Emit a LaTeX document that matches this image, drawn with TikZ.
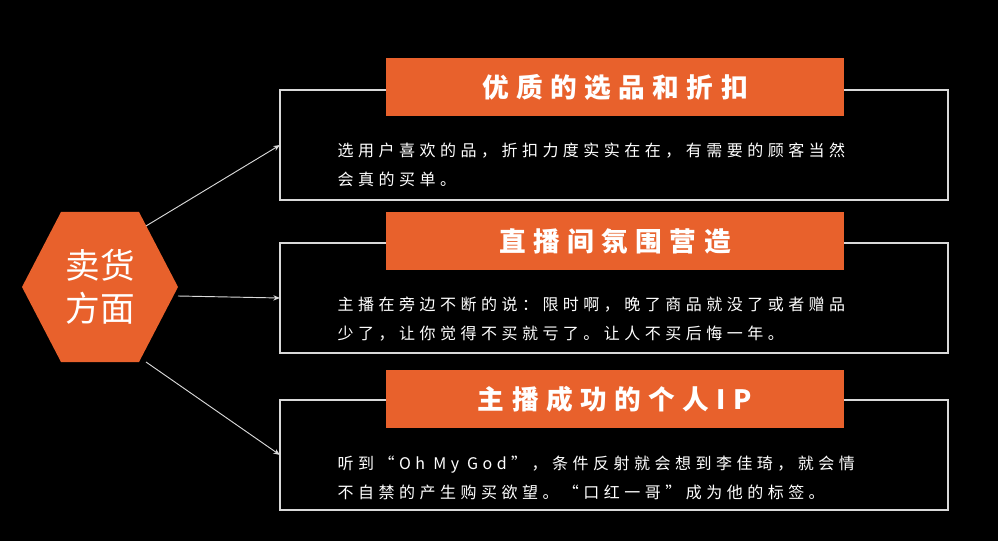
\documentclass[tikz,border=0pt]{standalone}
\usepackage{fontspec}
\setmainfont{Noto Sans CJK SC}
\newfontfamily\widecjk[LetterSpace=28]{Noto Sans CJK SC}
\usetikzlibrary{arrows.meta}
\definecolor{hotorange}{HTML}{E8612C}
\tikzset{
  card/.style={draw=white!85!black, line width=0.8pt},
  titlebar/.style={fill=hotorange, minimum width=344pt, minimum height=44pt, font=\widecjk\bfseries\fontsize{20}{24}\selectfont, text=white},
  bodytext/.style={text=white, align=left, anchor=west, font=\widecjk\fontsize{12}{22}\selectfont},
  link/.style={draw=white!85!black, line width=0.7pt, -{Stealth[width=4pt, length=5pt]}}
}
\begin{document}
\begin{tikzpicture}[x=0.75pt, y=-0.75pt]
\fill[black] (0,0) rectangle (998,541);
% left hexagon
\fill[hotorange] (22,287) -- (61,212) -- (139,212) -- (178,287) -- (139,362) -- (61,362) -- cycle;
\node[text=white, align=center, font=\fontsize{26}{32}\selectfont] (sell) at (100,287) {卖货\\方面};
\coordinate (hexup) at (146,226);
\coordinate (hexmid) at (178,296);
\coordinate (hexlow) at (146,362);
% cards
\draw[card] (280,90) rectangle (948,200);
\draw[card] (280,243) rectangle (948,353);
\draw[card] (280,400) rectangle (948,510);
\coordinate (cardone) at (280,145);
\coordinate (cardtwo) at (280,298);
\coordinate (cardthree) at (280,455);
\node[titlebar] (quality) at (615,87) {优质的选品和折扣};
\node[titlebar] (mood) at (615,241) {直播间氛围营造};
\node[titlebar] (anchorip) at (615,399) {主播成功的个人IP};
\node[bodytext] (qualitytext) at (333,165) {选用户喜欢的品，折扣力度实实在在，有需要的顾客当然\\会真的买单。};
\node[bodytext] (moodtext) at (333,319) {主播在旁边不断的说：限时啊，晚了商品就没了或者赠品\\少了，让你觉得不买就亏了。让人不买后悔一年。};
\node[bodytext] (anchoriptext) at (333,478) {听到“Oh My God”，条件反射就会想到李佳琦，就会情\\不自禁的产生购买欲望。“口红一哥”成为他的标签。};
% connectors
\draw[link] (hexup) -- (cardone);
\draw[link] (hexmid) -- (cardtwo);
\draw[link] (hexlow) -- (cardthree);
\end{tikzpicture}
\end{document}
